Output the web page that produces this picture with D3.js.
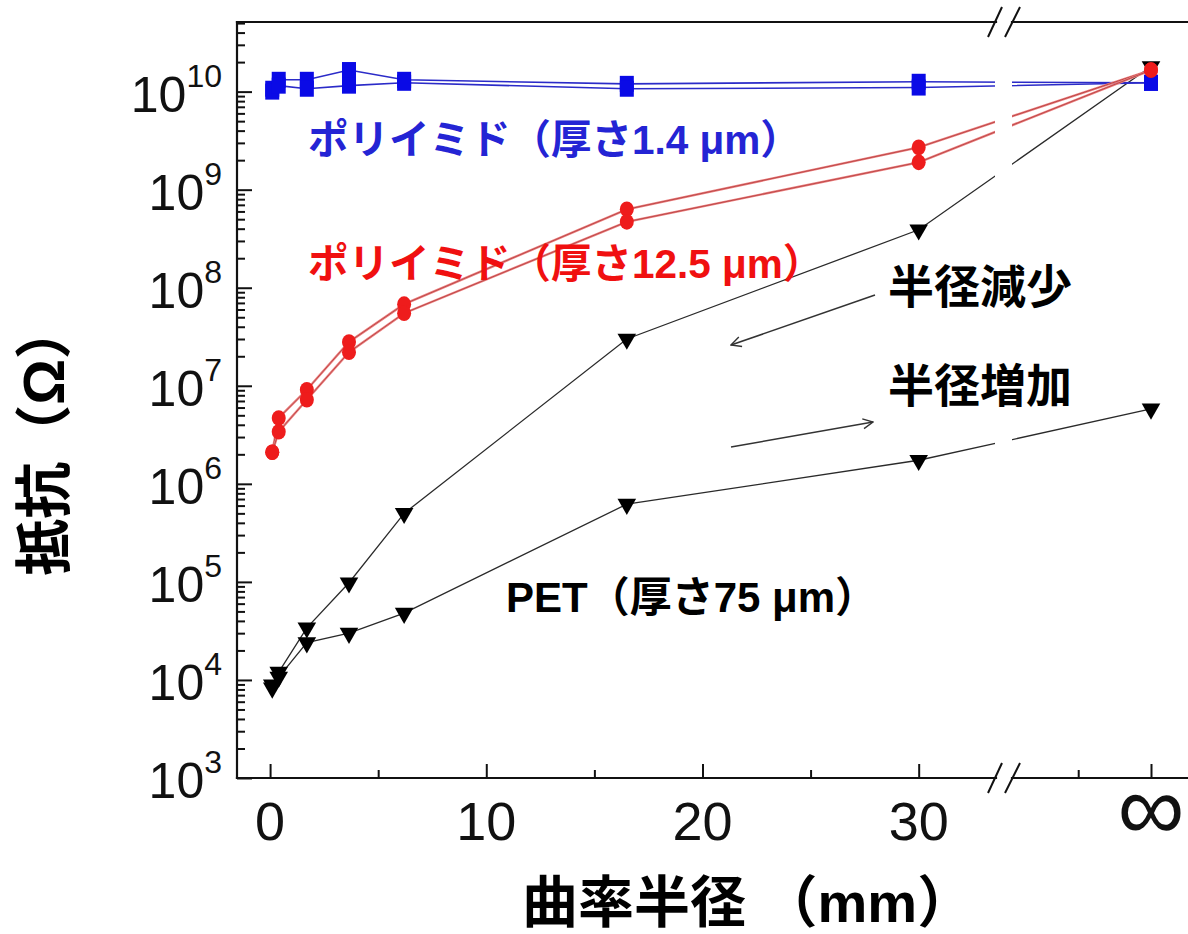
<!DOCTYPE html>
<html>
<head>
<meta charset="utf-8">
<script src="https://cdn.jsdelivr.net/npm/d3@7"></script>
<style>
  html, body { margin:0; padding:0; background:#fff; }
  svg { display:block; }
  text { font-family: "Liberation Sans", Arial, "Noto Sans CJK JP", sans-serif; }
</style>
</head>
<body>
<svg id="chart" width="1188" height="934"></svg>
<script>
// x position used for the "∞" column (behind the axis break)
var INF = 40;

// curvature radius (mm) of each measurement
var radius = [0.1, 0.4, 1.7, 3.65, 6.2, 16.5, 30, INF];

// resistance (ohm), radius decreasing / increasing
var pi14Dec  = [1.07e10, 1.32e10, 1.32e10, 1.66e10, 1.32e10, 1.2e10, 1.26e10, 1.23e10];
var pi14Inc  = [1.0e10, 1.15e10, 1.07e10, 1.15e10, 1.23e10, 1.07e10, 1.1e10, 1.23e10];
var pi125Dec = [2.1e6, 4.7e6, 9.1e6, 2.8e7, 6.8e7, 6.3e8, 2.7e9, 1.66e10];
var pi125Inc = [2.1e6, 3.4e6, 7.2e6, 2.2e7, 5.5e7, 4.7e8, 1.9e9, 1.66e10];
var petDec   = [8.9e3, 1.2e4, 3.4e4, 9.8e4, 5.0e5, 3.0e7, 3.9e8, 1.8e10];
var petInc   = [8.3e3, 1.07e4, 2.4e4, 3.0e4, 4.8e4, 6.2e5, 1.74e6, 5.8e6];

// axis ticks
var xMajor = [0, 10, 20, 30, INF];
var xLabels = ["0", "10", "20", "30", "∞"];
var xMinor = [5, 15, 25, 37];
var yExp = [3, 4, 5, 6, 7, 8, 9, 10];

var svg = d3.select("#chart");
var L = 237, R = 1188, T = 22, B = 778;
var breakX = 1003;

var x = d3.scaleLinear().domain([-1.53, 33.9, INF]).range([L, breakX, 1151]);
var y = d3.scaleLog().domain([1e3, Math.pow(10, 10.71)]).range([B, T]);

var g = svg.append("g");

// ---- series lines
var line = d3.line()
  .x(function(d) { return x(d[0]); })
  .y(function(d) { return y(d[1]); });

var pairs = function(vals) { return radius.map(function(r, i) { return [r, vals[i]]; }); };

var series = [
  {vals: petDec,   color: "#2a2a2a", w: 1.3, mark: "tri"},
  {vals: petInc,   color: "#2a2a2a", w: 1.3, mark: "tri"},
  {vals: pi14Dec,  color: "#2b2bc8", w: 1.6, mark: "sq"},
  {vals: pi14Inc,  color: "#2b2bc8", w: 1.6, mark: "sq"},
  {vals: pi125Dec, color: "#ec8080", w: 2.4, mark: "ci"},
  {vals: pi125Inc, color: "#ec8080", w: 2.4, mark: "ci"}
];

series.forEach(function(s) {
  g.append("path")
    .attr("d", line(pairs(s.vals)))
    .attr("fill", "none")
    .attr("stroke", s.color)
    .attr("stroke-width", s.w);
  if (s.mark === "ci") {
    g.append("path")
      .attr("d", line(pairs(s.vals)))
      .attr("fill", "none")
      .attr("stroke", "#a83030")
      .attr("stroke-width", 0.7);
  }
});

// white gap through the data where the axis is broken
g.append("rect")
  .attr("x", breakX - 8).attr("y", T + 2)
  .attr("width", 17).attr("height", B - T - 4)
  .attr("fill", "#fff");

// ---- markers
series.forEach(function(s) {
  var pts = g.append("g").selectAll("g").data(pairs(s.vals)).enter();
  if (s.mark === "tri") {
    pts.append("path")
      .attr("d", d3.symbol().type(d3.symbolTriangle).size(150))
      .attr("transform", function(d) { return "translate(" + x(d[0]) + "," + y(d[1]) + ") rotate(180)"; })
      .attr("fill", "#000");
  } else if (s.mark === "sq") {
    pts.append("rect")
      .attr("x", function(d) { return x(d[0]) - 7; })
      .attr("y", function(d) { return y(d[1]) - 8; })
      .attr("width", 14).attr("height", 16)
      .attr("fill", "#0a0ae6");
  } else {
    pts.append("ellipse")
      .attr("cx", function(d) { return x(d[0]); })
      .attr("cy", function(d) { return y(d[1]); })
      .attr("rx", 7).attr("ry", 7.8)
      .attr("fill", "#ee1c1c");
  }
});

// ---- axes
var axisCol = "#111";

// left axis ticks (inward)
var yMinor = [];
yExp.forEach(function(e) { for (var k = 2; k <= 9; k++) if (k * Math.pow(10, e) < Math.pow(10, 10.71)) yMinor.push(k * Math.pow(10, e)); });

var yAxMaj = svg.append("g").attr("transform", "translate(" + L + ",0)")
  .call(d3.axisLeft(y).tickValues(yExp.map(function(e) { return Math.pow(10, e); })).tickSize(-15).tickFormat(""));
var yAxMin = svg.append("g").attr("transform", "translate(" + L + ",0)")
  .call(d3.axisLeft(y).tickValues(yMinor).tickSize(-8).tickFormat(""));
[yAxMaj, yAxMin].forEach(function(a) {
  a.select(".domain").remove();
  a.selectAll("line").attr("stroke", axisCol).attr("stroke-width", 2);
});

// bottom axis ticks (inward)
var xAxMaj = svg.append("g").attr("transform", "translate(0," + B + ")")
  .call(d3.axisBottom(x).tickValues(xMajor).tickSize(-14).tickFormat(""));
var xAxMin = svg.append("g").attr("transform", "translate(0," + B + ")")
  .call(d3.axisBottom(x).tickValues(xMinor).tickSize(-8).tickFormat(""));
[xAxMaj, xAxMin].forEach(function(a) {
  a.select(".domain").remove();
  a.selectAll("line").attr("stroke", axisCol).attr("stroke-width", 2);
});

// frame lines with breaks
var gapL = breakX - 7, gapR = breakX + 9;
var frame = [
  [[L, T], [L, B]],
  [[L, B], [gapL, B]], [[gapR, B], [R, B]],
  [[L, T], [gapL, T]], [[gapR, T], [R, T]]
];
frame.forEach(function(f) {
  svg.append("line")
    .attr("x1", f[0][0]).attr("y1", f[0][1]).attr("x2", f[1][0]).attr("y2", f[1][1])
    .attr("stroke", axisCol).attr("stroke-width", 2.2).attr("stroke-linecap", "square");
});
[B, T].forEach(function(yy) {
  [[-15, -1], [2, 17]].forEach(function(o) {
    svg.append("line")
      .attr("x1", breakX + o[0]).attr("y1", yy + 15)
      .attr("x2", breakX + o[1]).attr("y2", yy - 15)
      .attr("stroke", axisCol).attr("stroke-width", 2);
  });
});

// y tick labels: 10^n
yExp.forEach(function(e) {
  var t = svg.append("text")
    .attr("x", 222).attr("y", y(Math.pow(10, e)) + 20)
    .attr("text-anchor", "end")
    .attr("font-size", 50)
    .attr("fill", "#111");
  t.append("tspan").text("10");
  t.append("tspan").attr("dy", -25).attr("font-size", 32).text(e);
});

// x tick labels
xMajor.forEach(function(v, i) {
  var inf = xLabels[i] === "∞";
  svg.append("text")
    .attr("x", x(v)).attr("y", 840)
    .attr("text-anchor", "middle")
    .attr("font-size", inf ? 94 : 54)
    .attr("fill", "#111")
    .text(xLabels[i]);
});

// axis titles
svg.append("text")
  .attr("x", 522).attr("y", 922)
  .attr("font-size", 56).attr("font-weight", "bold")
  .attr("fill", "#000")
  .text("曲率半径 （mm）");

svg.append("text")
  .attr("transform", "translate(64,439) rotate(-90)")
  .attr("text-anchor", "middle")
  .attr("font-size", 57).attr("font-weight", "bold")
  .attr("fill", "#000")
  .text("抵抗（Ω）");

// series labels
var labels = [
  {t: "ポリイミド（厚さ1.4 μm）", x: 308, y: 154, c: "#2424d4", s: 40.5},
  {t: "ポリイミド（厚さ12.5 μm）", x: 308, y: 278, c: "#f01010", s: 40.5},
  {t: "半径減少", x: 888, y: 303, c: "#000", s: 46},
  {t: "半径増加", x: 888, y: 402, c: "#000", s: 46},
  {t: "PET（厚さ75 μm）", x: 506, y: 612, c: "#000", s: 42}
];
labels.forEach(function(l) {
  svg.append("text")
    .attr("x", l.x).attr("y", l.y)
    .attr("font-size", l.s).attr("font-weight", "bold")
    .attr("fill", l.c)
    .text(l.t);
});

// arrows
svg.append("defs").append("marker")
  .attr("id", "arr")
  .attr("viewBox", "0 0 12 12")
  .attr("refX", 11).attr("refY", 6)
  .attr("markerWidth", 12).attr("markerHeight", 12)
  .attr("markerUnits", "userSpaceOnUse")
  .attr("orient", "auto")
  .append("path")
  .attr("d", "M1,1 L11,6 L1,11")
  .attr("fill", "none").attr("stroke", "#333").attr("stroke-width", 1.4);

[[[875, 295], [731, 345]], [[731, 447], [873, 422]]].forEach(function(a) {
  svg.append("line")
    .attr("x1", a[0][0]).attr("y1", a[0][1]).attr("x2", a[1][0]).attr("y2", a[1][1])
    .attr("stroke", "#333").attr("stroke-width", 1.6)
    .attr("marker-end", "url(#arr)");
});
</script>
</body>
</html>
